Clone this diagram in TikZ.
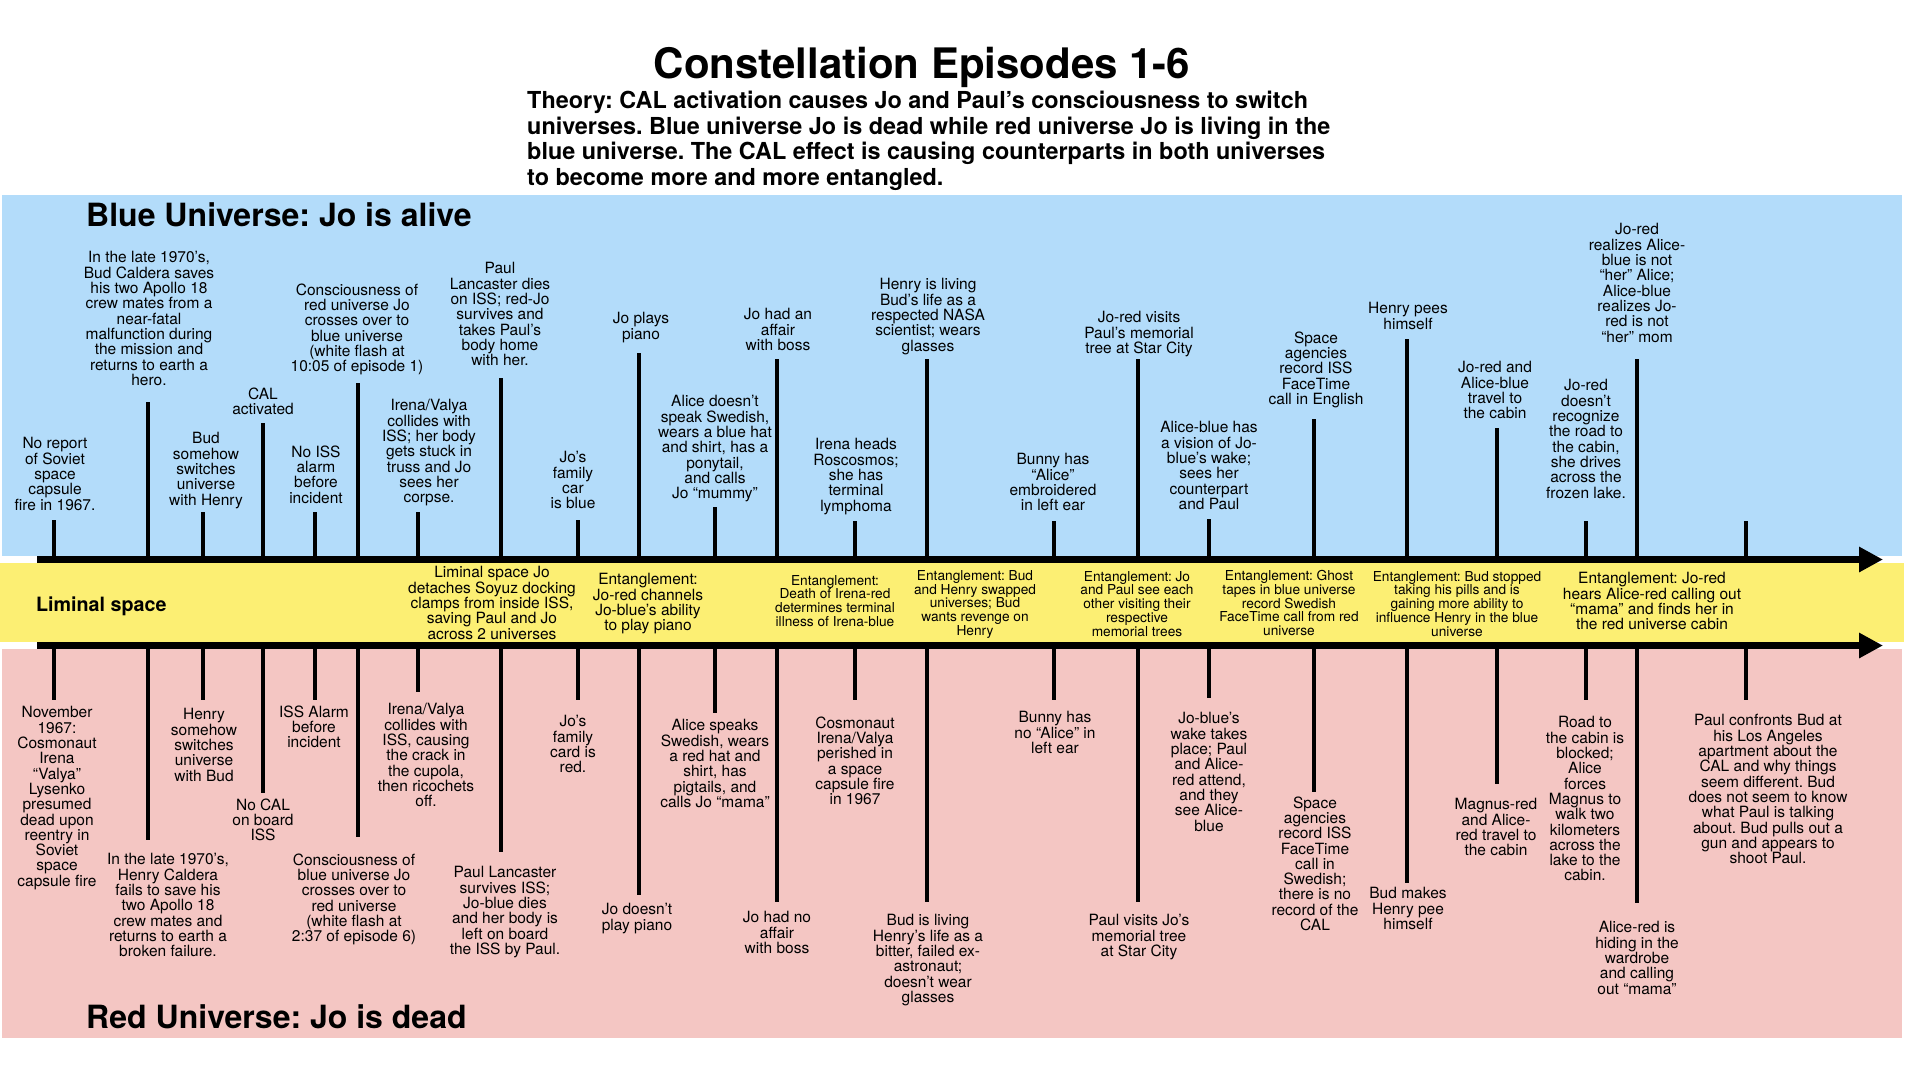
\documentclass[tikz,border=0pt]{standalone}
\usepackage{fontspec}
\setmainfont{TeX Gyre Heros}
\usetikzlibrary{arrows.meta}
\definecolor{blueuni}{HTML}{B3DCFA}
\definecolor{liminal}{HTML}{FCEF73}
\definecolor{reduni}{HTML}{F4C6C3}
\lineskiplimit=-50pt
\frenchspacing
\tikzset{
  evt/.style={font=\fontsize{15.5}{15.3}\selectfont, align=center, inner sep=0pt, anchor=north},
  ent/.style={font=\fontsize{13.7}{13.8}\selectfont, align=center, inner sep=0pt, anchor=north},
  stem/.style={line width=4.5pt},
  timeline/.style={line width=7pt, -{Triangle[length=24pt,width=24pt]}},
  heading/.style={font=\fontsize{32}{36}\selectfont\bfseries, inner sep=0pt, anchor=base west}
}
\begin{document}
\begin{tikzpicture}[x=1pt,y=-1pt]
\fill[white] (0,0) rectangle (1920,1080);
\useasboundingbox (0,0) rectangle (1920,1080);
\fill[blueuni] (2,195) rectangle (1902,556);
\fill[liminal] (0,563) rectangle (1904,642);
\fill[reduni] (2,649) rectangle (1902,1038);

\node[font=\fontsize{42}{48}\selectfont\bfseries, inner sep=0pt, anchor=base] (title) at (922,78) {Constellation Episodes 1-6};
\node[font=\fontsize{23.4}{25.5}\selectfont\bfseries, align=left, inner sep=0pt, anchor=north west] (theory) at (527,91) {Theory: CAL activation causes Jo and Paul’s consciousness to switch\\universes. Blue universe Jo is dead while red universe Jo is living in the\\blue universe. The CAL effect is causing counterparts in both universes\\to become more and more entangled.};
\node[heading] (bluetitle) at (86,226) {Blue Universe: Jo is alive};
\node[heading] (redtitle) at (86,1028) {Red Universe: Jo is dead};
\node[heading, font=\fontsize{19.7}{22}\selectfont\bfseries] (limtitle) at (36,611) {Liminal space};

\coordinate (topstart) at (37,559.5);
\coordinate (topend) at (1883,559.5);
\coordinate (botstart) at (37,645.5);
\coordinate (botend) at (1883,645.5);
\draw[timeline] (topstart) -- (topend);
\draw[timeline] (botstart) -- (botend);

\foreach \n/\x/\up/\dn in {1/54/520/700, 2/148/402/840, 3/203/512/700, 4/263/423/793, 5/315/512/700, 6/358/383/837, 7/418/512/692, 8/501/378/852, 9/578/520/700, 10/639/353/895, 11/715/507/713, 12/777/359/902, 13/855/521/700, 14/927/359/902, 15/1054/521/700, 16/1138/359/902, 17/1209/519/698, 18/1314/419/792, 19/1407/339/883, 20/1497/428/784, 21/1586/521/700, 22/1637/359/903, 23/1746/521/700}
{
  \coordinate (ta\n) at (\x,559.5);
  \coordinate (tu\n) at (\x,\up);
  \coordinate (ba\n) at (\x,645.5);
  \coordinate (bd\n) at (\x,\dn);
  \draw[stem] (ta\n) -- (tu\n);
  \draw[stem] (ba\n) -- (bd\n);
}

\node[evt] (blue1) at (55,437.4) {No report\\of Soviet\\space\\capsule\\fire in 1967.};
\node[evt] (blue2) at (149,251.4) {In the late 1970’s,\\Bud Caldera saves\\his two Apollo 18\\crew mates from a\\near-fatal\\malfunction during\\the mission and\\returns to earth a\\hero.};
\node[evt] (blue3) at (206,432.4) {Bud\\somehow\\switches\\universe\\with Henry};
\node[evt] (blue4) at (263,387.4) {CAL\\activated};
\node[evt] (blue5) at (316,445.4) {No ISS\\alarm\\before\\incident};
\node[evt] (blue6) at (357,283.4) {Consciousness of\\red universe Jo\\crosses over to\\blue universe\\(white flash at\\10:05 of episode 1)};
\node[evt] (blue7) at (429,399.4) {Irena/Valya\\collides with\\ISS; her body\\gets stuck in\\truss and Jo\\sees her\\corpse.};
\node[evt] (blue8) at (500,262.4) {Paul\\Lancaster dies\\on ISS; red-Jo\\survives and\\takes Paul’s\\body home\\with her.};
\node[evt] (blue9) at (573,451.4) {Jo’s\\family\\car\\is blue};
\node[evt] (blue10) at (641,312.4) {Jo plays\\piano};
\node[evt] (blue11) at (715,395.4) {Alice doesn’t\\speak Swedish,\\wears a blue hat\\and shirt, has a\\ponytail,\\and calls\\Jo “mummy”};
\node[evt] (blue12) at (778,308.4) {Jo had an\\affair\\with boss};
\node[evt] (blue13) at (856,438.4) {Irena heads\\Roscosmos;\\she has\\terminal\\lymphoma};
\node[evt] (blue14) at (928,278.4) {Henry is living\\Bud’s life as a\\respected NASA\\scientist; wears\\glasses};
\node[evt] (blue15) at (1053,453.4) {Bunny has\\“Alice”\\embroidered\\in left ear};
\node[evt] (blue16) at (1139,311.4) {Jo-red visits\\Paul’s memorial\\tree at Star City};
\node[evt] (blue17) at (1209,421.4) {Alice-blue has\\a vision of Jo-\\blue’s wake;\\sees her\\counterpart\\and Paul};
\node[evt] (blue18) at (1316,331.4) {Space\\agencies\\record ISS\\FaceTime\\call in English};
\node[evt] (blue19) at (1408,302.4) {Henry pees\\himself};
\node[evt] (blue20) at (1495,361.4) {Jo-red and\\Alice-blue\\travel to\\the cabin};
\node[evt] (blue21) at (1586,379.4) {Jo-red\\doesn’t\\recognize\\the road to\\the cabin,\\she drives\\across the\\frozen lake.};
\node[evt] (blue22) at (1637,223.4) {Jo-red\\realizes Alice-\\blue is not\\“her” Alice;\\Alice-blue\\realizes Jo-\\red is not\\“her” mom};

\node[evt] (link1) at (492,566.4) {Liminal space Jo\\detaches Soyuz docking\\clamps from inside ISS,\\saving Paul and Jo\\across 2 universes};
\node[evt] (link2) at (648,573.4) {Entanglement:\\Jo-red channels\\Jo-blue’s ability\\to play piano};
\node[ent] (link3) at (835,575) {Entanglement:\\Death of Irena-red\\determines terminal\\illness of Irena-blue};
\node[ent] (link4) at (975,570) {Entanglement: Bud\\and Henry swapped\\universes; Bud\\wants revenge on\\Henry};
\node[ent] (link5) at (1137,571) {Entanglement: Jo\\and Paul see each\\other visiting their\\respective\\memorial trees};
\node[ent] (link6) at (1289,570) {Entanglement: Ghost\\tapes in blue universe\\record Swedish\\FaceTime call from red\\universe};
\node[ent] (link7) at (1457,571) {Entanglement: Bud stopped\\taking his pills and is\\gaining more ability to\\influence Henry in the blue\\universe};
\node[evt] (link8) at (1652,572.4) {Entanglement: Jo-red\\hears Alice-red calling out\\“mama” and finds her in\\the red universe cabin};

\node[evt] (red1) at (57,706.4) {November\\1967:\\Cosmonaut\\Irena\\“Valya”\\Lysenko\\presumed\\dead upon\\reentry in\\Soviet\\space\\capsule fire};
\node[evt] (red2) at (168,853.4) {In the late 1970’s,\\Henry Caldera\\fails to save his\\two Apollo 18\\crew mates and\\returns to earth a\\broken failure.};
\node[evt] (red3) at (204,708.4) {Henry\\somehow\\switches\\universe\\with Bud};
\node[evt] (red4) at (263,798.4) {No CAL\\on board\\ISS};
\node[evt] (red5) at (314,705.4) {ISS Alarm\\before\\incident};
\node[evt] (red6) at (354,853.4) {Consciousness of\\blue universe Jo\\crosses over to\\red universe\\(white flash at\\2:37 of episode 6)};
\node[evt] (red7) at (426,703.4) {Irena/Valya\\collides with\\ISS, causing\\the crack in\\the cupola,\\then ricochets\\off.};
\node[evt] (red8) at (505,866.4) {Paul Lancaster\\survives ISS;\\Jo-blue dies\\and her body is\\left on board\\the ISS by Paul.};
\node[evt] (red9) at (573,715.4) {Jo’s\\family\\card is\\red.};
\node[evt] (red10) at (637,903.4) {Jo doesn’t\\play piano};
\node[evt] (red11) at (715,719.4) {Alice speaks\\Swedish, wears\\a red hat and\\shirt, has\\pigtails, and\\calls Jo “mama”};
\node[evt] (red12) at (777,911.4) {Jo had no\\affair\\with boss};
\node[evt] (red13) at (855,716.4) {Cosmonaut\\Irena/Valya\\perished in\\a space\\capsule fire\\in 1967};
\node[evt] (red14) at (928,914.4) {Bud is living\\Henry’s life as a\\bitter, failed ex-\\astronaut;\\doesn’t wear\\glasses};
\node[evt] (red15) at (1055,711.4) {Bunny has\\no “Alice” in\\left ear};
\node[evt] (red16) at (1139,914.4) {Paul visits Jo’s\\memorial tree\\at Star City};
\node[evt] (red17) at (1209,712.4) {Jo-blue’s\\wake takes\\place; Paul\\and Alice-\\red attend,\\and they\\see Alice-\\blue};
\node[evt] (red18) at (1315,796.4) {Space\\agencies\\record ISS\\FaceTime\\call in\\Swedish;\\there is no\\record of the\\CAL};
\node[evt] (red19) at (1408,887.4) {Bud makes\\Henry pee\\himself};
\node[evt] (red20) at (1496,798.4) {Magnus-red\\and Alice-\\red travel to\\the cabin};
\node[evt] (red21) at (1585,716.4) {Road to\\the cabin is\\blocked;\\Alice\\forces\\Magnus to\\walk two\\kilometers\\across the\\lake to the\\cabin.};
\node[evt] (red22) at (1637,921.4) {Alice-red is\\hiding in the\\wardrobe\\and calling\\out “mama”};
\node[evt] (red23) at (1768,714.4) {Paul confronts Bud at\\his Los Angeles\\apartment about the\\CAL and why things\\seem different. Bud\\does not seem to know\\what Paul is talking\\about. Bud pulls out a\\gun and appears to\\shoot Paul.};
\end{tikzpicture}
\end{document}
